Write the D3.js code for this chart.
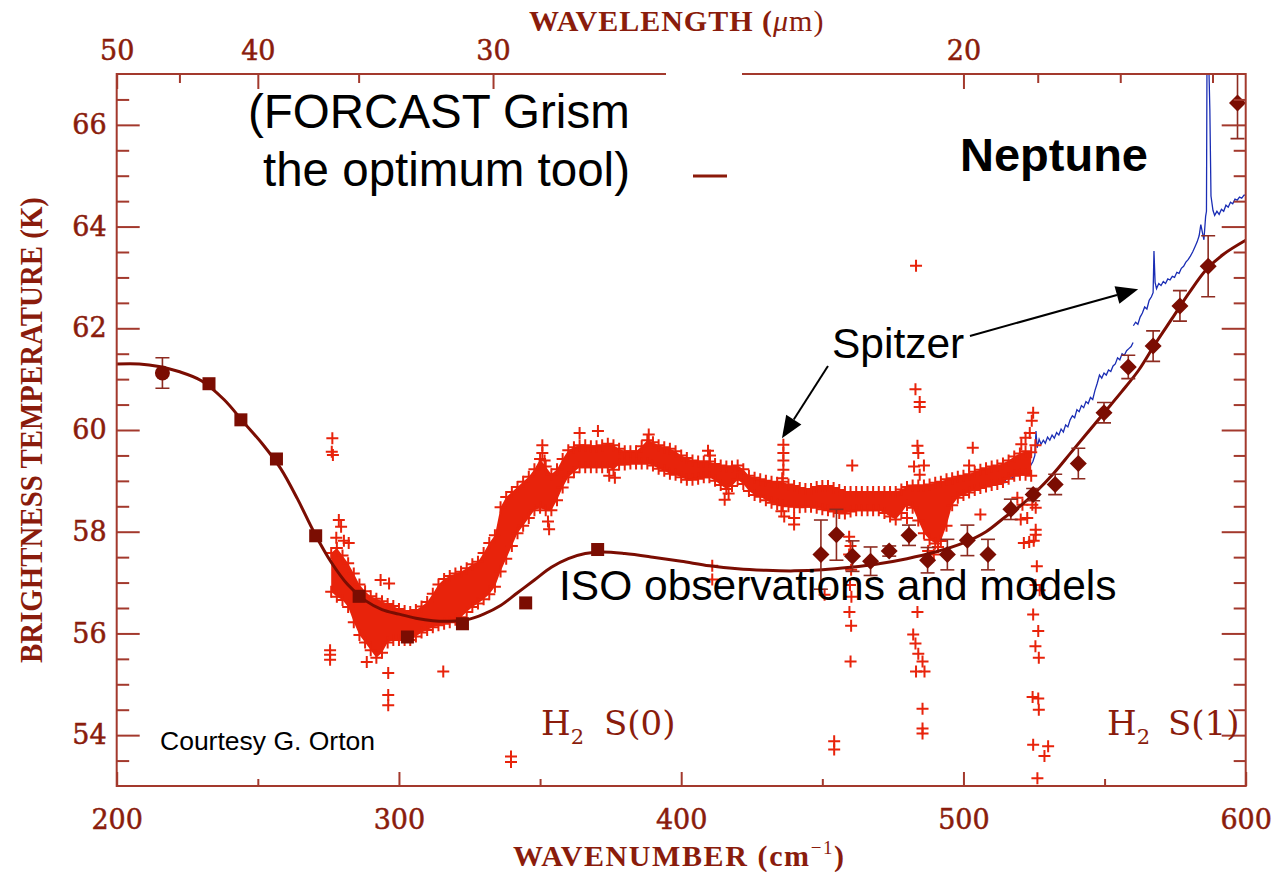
<!DOCTYPE html>
<html><head><meta charset="utf-8">
<script src="https://cdn.jsdelivr.net/npm/d3@7"></script>
<style>body{margin:0;background:#fff}svg{display:block}</style>
</head><body>
<svg id="c" width="1278" height="872"></svg>
<script>
// ---------------- DATA ----------------
// Model curve (wavenumber cm^-1, brightness temperature K)
const modelWn = [200,208,215,222,230,238,245,252,258,264,270,276,282,288,294,300,306,312,318,324,330,336,342,348,354,360,366,372,380,390,400,410,420,430,440,450,460,470,480,490,500,508,515,520,526,532,538,544,550,556,562,568,574,580,586,592,600];
const modelT  = [61.3,61.3,61.25,61.15,60.97,60.6,60.15,59.7,59.25,58.65,57.98,57.4,56.95,56.65,56.47,56.38,56.3,56.25,56.24,56.27,56.38,56.55,56.8,57.05,57.3,57.47,57.57,57.6,57.57,57.5,57.42,57.33,57.27,57.24,57.23,57.25,57.3,57.37,57.47,57.6,57.78,58.0,58.3,58.5,58.8,59.15,59.55,59.95,60.35,60.75,61.17,61.7,62.2,62.7,63.15,63.45,63.73];

// Earlier observations (squares) and one circle with error bar
const sqWn = [232.7,244,256.6,270.5,285.9,303,322.5,344.9,370.4];
const sqT  = [60.91,60.2,59.43,57.92,56.73,55.93,56.19,56.6,57.65];
const circWn = [216.2], circT = [61.12], circErr = [0.3];

// ISO observations (diamonds with error bars)
const isoWn  = [449.5,455,460.7,467.1,473.7,480.7,487.3,494.3,501.4,508.7,516.8,524.7,532.5,540.7,549.8,558.4,567.2,576.7,586.7,597.1];
const isoT   = [57.55,57.94,57.52,57.42,57.62,57.93,57.44,57.55,57.83,57.55,58.44,58.73,58.93,59.34,60.34,61.24,61.65,62.44,63.22,66.43];
const isoErr = [0.68,0.5,0.3,0.28,0.1,0.2,0.25,0.3,0.3,0.3,0.2,0.12,0.2,0.3,0.2,0.23,0.3,0.3,0.6,0.7];

// FORCAST grism spectrum (red crosses): band edges
const bandWn = [276,278,280,282,284,286,288,290,292,294,296,298,300,302,304,306,308,310,312,314,316,318,320,322,324,326,328,330,332,334,336,338,340,342,344,346,348,350,352,354,356,358,360,362,364,366,368,370,372,374,376,378,380,382,384,386,388,390,392,394,396,398,400,402,404,406,408,410,412,414,416,418,420,422,424,426,428,430,432,434,436,438,440,442,444,446,448,450,452,454,456,458,460,462,464,466,468,470,472,474,476,478,480,482,484,486,488,490,492,494,496,498,500,502,504,506,508,510,512,514,516,518,520,522,524];
const bandHi = [57.6,57.7,57.55,57.4,57.2,56.98,56.85,56.75,56.7,56.65,56.6,56.56,56.5,56.46,56.44,56.48,56.55,56.64,56.8,56.98,57.09,57.15,57.2,57.23,57.3,57.38,57.43,57.6,57.8,57.95,58.5,58.7,58.8,58.9,59.0,59.1,59.25,59.45,59.3,59.15,59.25,59.45,59.62,59.68,59.72,59.72,59.7,59.7,59.72,59.75,59.72,59.65,59.6,59.6,59.6,59.7,59.82,59.78,59.72,59.68,59.65,59.6,59.52,59.47,59.42,59.4,59.4,59.4,59.35,59.32,59.3,59.3,59.32,59.25,59.12,59.08,59.05,59.02,59.0,58.98,59.0,58.95,58.92,58.88,58.86,58.86,58.9,58.92,58.92,58.88,58.84,58.8,58.8,58.8,58.8,58.8,58.8,58.8,58.8,58.8,58.8,58.85,58.9,58.93,58.93,58.93,58.95,58.98,59.0,59.05,59.07,59.1,59.12,59.15,59.2,59.24,59.27,59.3,59.32,59.36,59.42,59.5,59.56,59.6,59.58];
const bandLo = [56.8,56.7,56.64,56.5,56.2,55.95,55.8,55.65,55.5,55.6,55.8,55.85,55.85,55.85,55.85,55.92,56.0,56.05,56.1,56.14,56.17,56.2,56.25,56.3,56.4,56.5,56.57,56.65,56.75,56.9,57.2,57.45,57.7,57.95,58.1,58.25,58.4,58.45,58.4,58.4,58.6,58.85,59.05,59.15,59.25,59.25,59.25,59.25,59.25,59.25,59.2,59.3,59.3,59.32,59.32,59.32,59.32,59.28,59.22,59.18,59.12,59.1,59.05,59.0,59.0,59.02,59.05,59.05,58.98,58.9,58.82,58.88,59.0,58.92,58.78,58.7,58.67,58.6,58.55,58.52,58.5,58.48,58.47,58.46,58.47,58.47,58.45,58.42,58.4,58.38,58.35,58.34,58.38,58.4,58.4,58.4,58.4,58.4,58.35,58.28,58.22,58.35,58.5,58.45,58.2,57.95,57.82,57.75,57.8,58.1,58.5,58.65,58.7,58.75,58.8,58.84,58.87,58.9,58.92,58.96,59.02,59.08,59.1,59.1,59.08];
// FORCAST scattered crosses outside the band [wavenumber, K]
const forcastOut = [[276.4,59.84],[276.2,59.57],[276.6,59.51],[278.7,58.23],[279.5,58.1],[277.8,57.88],[280.5,57.82],[282.2,57.78],
 [275.6,55.67],[275.6,55.58],[275.6,55.48],[288.6,55.44],[296.2,55.22],[296.2,54.79],[296.2,54.59],[293.5,57.05],[296.5,56.98],[315.7,55.25],
 [339.7,53.58],[339.7,53.47],[350.8,59.7],[350.8,59.55],[351.6,59.4],[352.8,58.2],[353.2,58.05],
 [364.0,59.94],[370.5,59.98],[376.5,59.06],[374.5,59.1],[388.5,59.91],[409.5,59.59],[410.2,59.5],[411.0,57.33],[411.0,57.06],[415.4,58.63],[416.8,58.75],
 [436.2,59.71],[436.2,59.55],[436.2,59.4],[436.2,59.22],[435.8,59.05],[435.5,58.4],[436.5,58.3],[440.0,58.27],[440.0,58.14],
 [450.8,56.76],[454.2,53.88],[454.2,53.72],
 [459.5,57.9],[460.0,57.72],[459.5,57.55],[460.2,57.25],[459.8,56.95],[460.3,56.72],[459.6,56.42],[460.2,56.15],[460.0,55.45],[460.6,59.3],
 [483.2,63.23],[483.0,60.8],[484.5,60.55],[484.5,60.45],[483.7,59.69],[484.0,59.55],[482.5,59.28],[484.5,59.12],[486.0,59.3],[480.0,58.27],
 [483.7,56.42],[482.2,55.98],[483.0,55.8],[484.0,55.6],[485.5,55.45],[483.2,55.25],[486.2,55.25],[485.5,54.52],[485.5,54.13],[485.5,54.03],
 [487.5,57.62],[489.5,57.55],[491.0,57.7],[503.3,59.65],[502.0,59.3],[506.0,58.34],
 [524.7,60.34],[524.2,60.18],[523.5,59.94],[522.0,59.85],[520.5,59.72],[525.5,59.7],
 [519.1,58.67],[520.9,58.53],[522.6,58.27],[520.3,58.24],[524.4,58.53],[525.6,58.47],[525.6,58.04],[525.6,57.94],[524.9,57.82],[521.4,57.78],[523.3,57.8],
 [526.0,57.32],[525.5,56.95],[527.0,56.85],[524.7,56.37],[526.5,56.05],[525.5,55.75],[526.7,55.52],[524.5,54.75],[526.5,54.72],[526.7,54.5],[524.7,53.81],[530.0,53.78],[528.7,53.59],[526.2,53.15]];

// Spitzer spectrum (blue), two segments [wavenumber, K]
const spitzer1 = [[514.6,58.95],[515.3,59.08],[516.0,59.02],[516.8,59.1],[517.5,59.05],[518.3,59.18],[519.0,59.12],[519.8,59.22],[520.6,59.18],[521.4,59.3],[522.2,59.26],[523.0,59.36],[523.8,59.3],[524.6,59.38],[525.3,59.5],[525.7,59.98],[526.1,59.65],[526.8,59.82],[527.5,59.72],[528.3,59.8],[529.0,59.74],[529.8,59.86],[530.6,59.8],[531.4,59.9],[532.2,59.84],[533.0,59.95],[533.8,59.9],[534.6,60.02],[535.4,59.96],[536.2,60.1],[537.0,60.06],[537.8,60.2],[538.6,60.28],[539.4,60.24],[540.2,60.4],[541.0,60.36],[541.8,60.48],[542.6,60.44],[543.4,60.56],[544.2,60.52],[545.0,60.64],[545.8,60.6],[546.6,60.78],[547.4,60.92],[548.2,61.08],[549.0,61.02],[549.8,61.12],[550.6,61.08],[551.4,61.18],[552.2,61.15],[553.0,61.26],[553.8,61.3],[554.6,61.42],[555.4,61.38],[556.2,61.5],[557.0,61.47],[557.8,61.56],[558.6,61.6],[559.4,61.64],[560.1,61.72]];
const spitzer2 = [[560.2,62.05],[561.0,62.12],[561.8,62.08],[562.6,62.22],[563.4,62.3],[564.2,62.42],[565.0,62.38],[565.8,62.55],[566.6,62.62],[567.2,62.7],[567.5,63.52],[567.9,62.9],[568.4,62.78],[569.2,62.88],[570.0,62.84],[570.8,62.92],[571.6,62.88],[572.4,62.97],[573.2,62.95],[574.0,63.02],[574.8,63.0],[575.6,63.1],[576.4,63.08],[577.2,63.18],[578.0,63.22],[578.8,63.3],[579.6,63.35],[580.4,63.42],[581.2,63.5],[582.0,63.6],[582.8,63.7],[583.5,63.82],[584.1,64.04],[584.6,63.9],[585.2,63.74],[585.8,64.2],[586.1,64.3],[586.3,67.5],[586.8,67.5],[587.3,66.3],[587.7,64.6],[588.4,64.32],[589.0,64.22],[589.8,64.3],[590.6,64.24],[591.4,64.34],[592.2,64.3],[593.0,64.42],[593.8,64.38],[594.6,64.48],[595.4,64.45],[596.2,64.54],[597.0,64.52],[597.8,64.58],[598.6,64.56],[599.4,64.62],[600.0,64.62]];

// Axis ticks
const xMajor = [200,300,400,500,600];
const xMinor = [250,350,450,550];
const topMajorUm = [50,40,30,20];
const topMinorUm = [45,35,25,19,18,17];
const yMajor = [54,56,58,60,62,64,66];
const yMinor = [53.5,54.5,55,55.5,56.5,57,57.5,58.5,59,59.5,60.5,61,61.5,62.5,63,63.5,64.5,65,65.5,66.5];

// ---------------- DRAW ----------------
const AX = '#a3392d', TX = '#8a1c0c', MOD = '#7b0d02', RED = '#e8230b', BLUE = '#1a2db4', ERR = '#8d2b20';
const svg = d3.select('#c');
const x = d3.scaleLinear().domain([200, 600]).range([116.7, 1245.7]);
const y = d3.scaleLinear().domain([53, 67]).range([786, 74]);

svg.append('defs').append('clipPath').attr('id', 'plot').append('rect')
  .attr('x', x(200)).attr('y', y(67)).attr('width', x(600) - x(200)).attr('height', y(53) - y(67));
const g = svg.append('g').attr('clip-path', 'url(#plot)');

// Spitzer
const ln = d3.line().x(d => x(d[0])).y(d => y(d[1]));
[spitzer1, spitzer2].forEach(s => g.append('path').datum(s).attr('d', ln)
  .attr('fill', 'none').attr('stroke', BLUE).attr('stroke-width', 1.3));

// FORCAST band
const band = bandWn.map((w, i) => ({w, hi: bandHi[i], lo: bandLo[i]}));
const inset = 1;
const yHi = d => Math.min(y(d.hi) + inset, (y(d.hi) + y(d.lo)) / 2);
const yLo = d => Math.max(y(d.lo) - inset, (y(d.hi) + y(d.lo)) / 2);
g.append('path').datum(band)
  .attr('d', d3.area().x(d => x(d.w)).y0(yLo).y1(yHi))
  .attr('fill', RED);
const cross = 'M-6,0H6M0,-6V6';
const crossPts = [];
band.forEach(d => { crossPts.push([x(d.w), yHi(d)]); crossPts.push([x(d.w), yLo(d)]); });
forcastOut.forEach(d => crossPts.push([x(d[0]), y(d[1])]));
g.selectAll('path.cr').data(crossPts).join('path').attr('class', 'cr')
  .attr('d', cross).attr('transform', d => `translate(${d[0]},${d[1]})`)
  .attr('stroke', RED).attr('stroke-width', 2).attr('fill', 'none');

// Model curve
const model = modelWn.map((w, i) => [w, modelT[i]]);
g.append('path').datum(model)
  .attr('d', d3.line().x(d => x(d[0])).y(d => y(d[1])).curve(d3.curveCatmullRom))
  .attr('fill', 'none').attr('stroke', MOD).attr('stroke-width', 3);

// Squares
g.selectAll('rect.sq').data(sqWn.map((w, i) => [w, sqT[i]])).join('rect').attr('class', 'sq')
  .attr('x', d => x(d[0]) - 6.5).attr('y', d => y(d[1]) - 6.5).attr('width', 13).attr('height', 13).attr('fill', MOD);

// Error bars helper
function errBars(data, cap) {
  const eg = g.append('g').attr('stroke', ERR).attr('stroke-width', 1.6).attr('fill', 'none');
  data.forEach(d => {
    const cx = x(d[0]), y1 = y(d[1] + d[2]), y2 = y(d[1] - d[2]);
    eg.append('line').attr('x1', cx).attr('x2', cx).attr('y1', y1).attr('y2', y2);
    eg.append('line').attr('x1', cx - cap).attr('x2', cx + cap).attr('y1', y1).attr('y2', y1);
    eg.append('line').attr('x1', cx - cap).attr('x2', cx + cap).attr('y1', y2).attr('y2', y2);
  });
}
const circ = circWn.map((w, i) => [w, circT[i], circErr[i]]);
errBars(circ, 7);
g.selectAll('circle.ci').data(circ).join('circle').attr('class', 'ci')
  .attr('cx', d => x(d[0])).attr('cy', d => y(d[1])).attr('r', 7.5).attr('fill', MOD);

const iso = isoWn.map((w, i) => [w, isoT[i], isoErr[i]]);
errBars(iso, 7);
g.selectAll('path.dia').data(iso).join('path').attr('class', 'dia')
  .attr('d', 'M0,-8.5L8.5,0L0,8.5L-8.5,0Z')
  .attr('transform', d => `translate(${x(d[0])},${y(d[1])})`).attr('fill', MOD);

// ---------------- AXES ----------------
const serif = '"DejaVu Serif", serif';
function styleAxis(sel) {
  sel.select('.domain').remove();
  sel.selectAll('line').attr('stroke', AX).attr('stroke-width', 2);
  sel.selectAll('text').attr('fill', TX).attr('stroke', TX).attr('stroke-width', 0.5)
    .style('font-family', serif).style('font-size', '27px');
}
// bottom
svg.append('g').attr('transform', `translate(0,${y(53)})`)
  .call(d3.axisBottom(x).tickValues(xMajor).tickSize(-14).tickPadding(24).tickFormat(d3.format('d'))).call(styleAxis);
svg.append('g').attr('transform', `translate(0,${y(53)})`)
  .call(d3.axisBottom(x).tickValues(xMinor).tickSize(-7).tickFormat('')).call(styleAxis);
// top (wavelength)
svg.append('g').attr('transform', `translate(0,${y(67)})`)
  .call(d3.axisTop(x).tickValues(topMajorUm.map(u => 10000 / u)).tickSize(-15).tickPadding(14)
    .tickFormat(d => Math.round(10000 / d))).call(styleAxis);
svg.append('g').attr('transform', `translate(0,${y(67)})`)
  .call(d3.axisTop(x).tickValues(topMinorUm.map(u => 10000 / u)).tickSize(-9).tickFormat('')).call(styleAxis);
// left
svg.append('g').attr('transform', `translate(${x(200)},0)`)
  .call(d3.axisLeft(y).tickValues(yMajor).tickSize(-23).tickPadding(10).tickFormat(d3.format('d'))).call(styleAxis);
svg.append('g').attr('transform', `translate(${x(200)},0)`)
  .call(d3.axisLeft(y).tickValues(yMinor).tickSize(-12.5).tickFormat('')).call(styleAxis);
// right
svg.append('g').attr('transform', `translate(${x(600)},0)`)
  .call(d3.axisRight(y).tickValues(yMajor).tickSize(-24).tickFormat('')).call(styleAxis);
svg.append('g').attr('transform', `translate(${x(600)},0)`)
  .call(d3.axisRight(y).tickValues(yMinor).tickSize(-12).tickFormat('')).call(styleAxis);

// frame
svg.append('rect').attr('x', x(200)).attr('y', y(67)).attr('width', x(600) - x(200)).attr('height', y(53) - y(67))
  .attr('fill', 'none').attr('stroke', AX).attr('stroke-width', 2);
// white patch over the top frame (as in the reference)
svg.append('rect').attr('x', 666).attr('y', 66).attr('width', 76).attr('height', 26).attr('fill', '#fff');

// axis titles
const tserif = '"Liberation Serif", serif';
const wl = svg.append('text').attr('x', 529).attr('y', 31).attr('fill', TX)
  .style('font-family', tserif).style('font-weight', 'bold').style('font-size', '30px').style('letter-spacing', '1px');
wl.append('tspan').text('WAVELENGTH (');
wl.append('tspan').style('font-style', 'italic').style('font-weight', 'normal').text('μ');
wl.append('tspan').style('font-weight', 'normal').text('m)');
const wn = svg.append('text').attr('x', 513).attr('y', 866).attr('fill', TX)
  .style('font-family', tserif).style('font-weight', 'bold').style('font-size', '30px').style('letter-spacing', '1.6px');
wn.append('tspan').text('WAVENUMBER (cm');
wn.append('tspan').attr('dy', -12).style('font-size', '19px').style('font-weight', 'normal').text('−1');
wn.append('tspan').attr('dy', 12).text(')');
svg.append('text').attr('transform', 'translate(42,430) rotate(-90)').attr('text-anchor', 'middle')
  .attr('fill', TX).style('font-family', tserif).style('font-weight', 'bold').style('font-size', '31px')
  .attr('textLength', 466).attr('lengthAdjust', 'spacingAndGlyphs')
  .text('BRIGHTNESS TEMPERATURE (K)');

// H2 labels
function h2(xH, xS, txt) {
  const t = svg.append('text').attr('x', xH).attr('y', 735).attr('fill', TX)
    .style('font-family', serif).style('font-size', '34px');
  t.append('tspan').text('H');
  t.append('tspan').attr('dy', 9).style('font-size', '21px').text('2');
  t.append('tspan').attr('x', xS).attr('dy', -9).text(txt);
}
h2(541, 604, 'S(0)');
h2(1107, 1168, 'S(1)');

// annotations
const sans = '"Liberation Sans", Arial, sans-serif';
function lab(xp, yp, txt, size, bold) {
  svg.append('text').attr('x', xp).attr('y', yp).attr('fill', '#000')
    .style('font-family', sans).style('font-size', size + 'px').style('font-weight', bold ? 'bold' : 'normal').text(txt);
}
lab(248, 128, '(FORCAST Grism', 47.5);
lab(263, 186, 'the optimum tool)', 47.5);
lab(960, 171, 'Neptune', 47, true);
lab(832, 358, 'Spitzer', 42.5);
lab(559, 600, 'ISO observations and models', 42.5);
lab(160, 750, 'Courtesy G. Orton', 26.5);
svg.append('line').attr('x1', 693).attr('x2', 727).attr('y1', 176).attr('y2', 176).attr('stroke', '#8b1a0a').attr('stroke-width', 3);

// arrows (annotation, data coordinates)
function arrow(w0, t0, w1, t1) {
  const x0 = x(w0), y0 = y(t0), x1 = x(w1), y1 = y(t1);
  const a = Math.atan2(y1 - y0, x1 - x0), L = 22, hw = 9;
  const bx = x1 - L * Math.cos(a), by = y1 - L * Math.sin(a);
  svg.append('line').attr('x1', x0).attr('y1', y0).attr('x2', bx).attr('y2', by).attr('stroke', '#000').attr('stroke-width', 2);
  const px = -Math.sin(a) * hw, py = Math.cos(a) * hw;
  svg.append('path').attr('d', `M${x1},${y1}L${bx + px},${by + py}L${bx - px},${by - py}Z`).attr('fill', '#000');
}
arrow(502.3, 61.85, 561.9, 62.77);
arrow(452.0, 61.26, 435.7, 59.84);
</script>
</body></html>
